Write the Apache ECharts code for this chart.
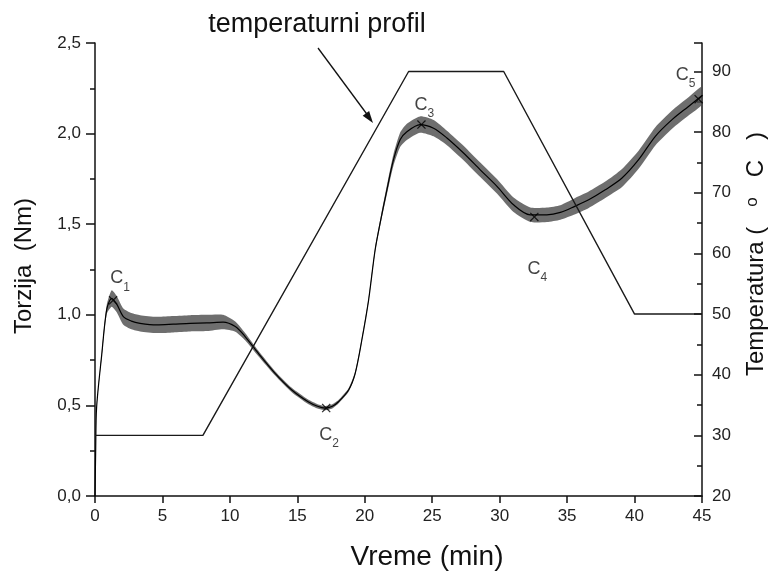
<!DOCTYPE html>
<html>
<head>
<meta charset="utf-8">
<script src="https://cdn.jsdelivr.net/npm/echarts@6/dist/echarts.min.js"></script>
<style>
html,body{margin:0;padding:0;background:#fff;}
#chart{width:773px;height:573px;}
</style>
</head>
<body>
<div id="chart"></div>
<script>
// ---- data ----
var torqueTime = [0,0.05,0.12,0.5,0.87,1.24,1.6,2.1,2.7,3.34,4.58,5.8,7.05,8.3,9.5,10.4,11.13,12.1,13.35,14.59,15.8,16.5,17.06,17.6,18.05,18.8,19.29,19.78,20.28,20.77,21.2,21.64,22.13,22.63,23.12,24.1,25.1,26.09,27.32,28.56,29.8,31.03,32.27,33.5,34.5,35.6,36.6,37.83,39.07,40.3,41.54,42.78,44.0,45];
var torqueValue = [0,0.25,0.49,0.78,1.03,1.09,1.06,0.99,0.965,0.953,0.944,0.948,0.953,0.955,0.96,0.935,0.88,0.788,0.677,0.585,0.52,0.495,0.485,0.495,0.52,0.585,0.677,0.86,1.08,1.36,1.53,1.69,1.856,1.967,2.01,2.05,2.03,1.976,1.893,1.8,1.709,1.607,1.552,1.552,1.565,1.6,1.635,1.69,1.755,1.856,1.985,2.077,2.15,2.21];
var torqueSpread = [0,0.005,0.005,0.012,0.025,0.045,0.045,0.045,0.045,0.045,0.045,0.045,0.045,0.045,0.04,0.028,0.02,0.015,0.012,0.012,0.012,0.012,0.012,0.012,0.01,0.01,0.01,0.01,0.01,0.012,0.018,0.025,0.032,0.04,0.045,0.045,0.045,0.04,0.04,0.04,0.04,0.04,0.04,0.04,0.04,0.045,0.045,0.045,0.05,0.05,0.05,0.05,0.05,0.05];
var tempTime = [0,8,23.25,30.3,40,45];
var tempValue = [30,30,90,90,50,50];
var pointTime = [1.34,17.14,24.2,32.57,44.75];
var pointTorque = [1.08,0.485,2.05,1.54,2.19];
var pointNames = ['1','2','3','4','5'];

// ---- styling / build ----
var labelOffsets = [[7,-22],[3,27],[3,-20],[3,52],[-13,-24]];
var FONT = '"Liberation Sans", Arial, sans-serif';
var mean = torqueTime.map(function (t, i) { return [t, torqueValue[i]]; });
var temp = tempTime.map(function (t, i) { return [t, tempValue[i]]; });
var pts = pointTime.map(function (t, i) {
  return {
    value: [t, pointTorque[i]],
    label: { formatter: '{c|C}{s|' + pointNames[i] + '}', offset: labelOffsets[i] }
  };
});
var xMark = 'path://M0,1L1,0L5,4L9,0L10,1L6,5L10,9L9,10L5,6L1,10L0,9L4,5Z';

function renderBand(params, api) {
  var upper = [], lower = [];
  for (var i = 0; i < torqueTime.length; i++) {
    upper.push(api.coord([torqueTime[i], torqueValue[i] + torqueSpread[i]]));
    lower.push(api.coord([torqueTime[i], torqueValue[i] - torqueSpread[i]]));
  }
  return {
    type: 'polygon',
    shape: {points: upper.concat(lower.reverse()), smooth: 0.2},
    style: {fill: '#4a4a4a', opacity: 0.8, stroke: null}
  };
}

var chart = echarts.init(document.getElementById('chart'), null, {renderer: 'canvas'});
chart.setOption({
  animation: false,
  backgroundColor: '#fff',
  grid: {left: 95, right: 71, top: 43, bottom: 77},
  xAxis: {
    type: 'value', min: 0, max: 45, interval: 5,
    axisLine: {lineStyle: {color: '#111', width: 1.5}},
    axisTick: {length: 7, lineStyle: {color: '#111', width: 1.5}},
    axisLabel: {fontSize: 17, fontFamily: FONT, color: '#222', margin: 12},
    splitLine: {show: false}
  },
  yAxis: [{
    type: 'value', min: 0, max: 2.5, interval: 0.5, position: 'left',
    axisLine: {show: true, lineStyle: {color: '#111', width: 1.5}},
    axisTick: {show: true, length: 9, lineStyle: {color: '#111', width: 1.5}},
    minorTick: {show: true, splitNumber: 2, length: 5, lineStyle: {color: '#111', width: 1.5}},
    axisLabel: {fontSize: 17, fontFamily: FONT, color: '#222', margin: 14,
      formatter: function (v) { return v.toFixed(1).replace('.', ','); }},
    splitLine: {show: false}
  }, {
    type: 'value', min: 20, max: 94.7, interval: 10, position: 'right',
    axisLine: {show: true, lineStyle: {color: '#111', width: 1.5}},
    axisTick: {show: true, inside: true, length: 8, lineStyle: {color: '#111', width: 1.5}},
    minorTick: {show: true, splitNumber: 2, length: 5, lineStyle: {color: '#111', width: 1.5}},
    axisLabel: {fontSize: 17, fontFamily: FONT, color: '#222', margin: 10, showMaxLabel: false,
      formatter: function (v) { return (v % 10 === 0) ? String(v) : ''; }},
    splitLine: {show: false}
  }],
  series: [{
    type: 'custom', name: 'band', data: [[0, 0]], renderItem: renderBand,
    silent: true, z: 1, clip: true
  }, {
    type: 'line', name: 'Torzija', data: mean, smooth: 0.3, symbol: 'none',
    lineStyle: {color: '#000', width: 1.2}, z: 2
  }, {
    type: 'line', name: 'Temperatura', data: temp, yAxisIndex: 1, symbol: 'none',
    lineStyle: {color: '#1a1a1a', width: 1.4}, z: 3
  }, {
    type: 'scatter', data: pts, symbol: xMark, symbolSize: 9,
    itemStyle: {color: '#000'}, z: 4,
    label: {
      show: true, position: 'inside', align: 'center', verticalAlign: 'middle',
      color: '#111', fontFamily: FONT,
      rich: {
        c: {fontSize: 18, lineHeight: 18, verticalAlign: 'top', fontFamily: FONT, color: '#111'},
        s: {fontSize: 12, lineHeight: 12, verticalAlign: 'top', padding: [12, 0, 0, 0], fontFamily: FONT, color: '#111'}
      }
    }
  }],
  graphic: [
    {type: 'text', x: 24, y: 266, rotation: Math.PI / 2,
     style: {text: 'Torzija  (Nm)', font: '24px ' + FONT, fill: '#111', align: 'center', verticalAlign: 'middle'}},
    {type: 'text', x: 756, y: 254, rotation: Math.PI / 2,
     style: {text: 'Temperatura (   {sup|o}   C   )', font: '24px ' + FONT, fill: '#111', align: 'center', verticalAlign: 'middle',
       rich: {sup: {fontSize: 17, fontFamily: FONT, fill: '#111', padding: [0, 0, 8, 0]}}}},
    {type: 'text', x: 427, y: 557,
     style: {text: 'Vreme (min)', font: '28px ' + FONT, fill: '#111', align: 'center', verticalAlign: 'middle'}},
    {type: 'text', x: 317, y: 25,
     style: {text: 'temperaturni profil', font: '27px ' + FONT, fill: '#111', align: 'center', verticalAlign: 'middle'}},
    {type: 'line', shape: {x1: 318, y1: 48, x2: 369, y2: 117}, style: {stroke: '#111', lineWidth: 1.3}},
    {type: 'polygon', shape: {points: [[373, 123], [362.7, 115.7], [369.1, 110.9]]}, style: {fill: '#111'}}
  ]
});
</script>
</body>
</html>
